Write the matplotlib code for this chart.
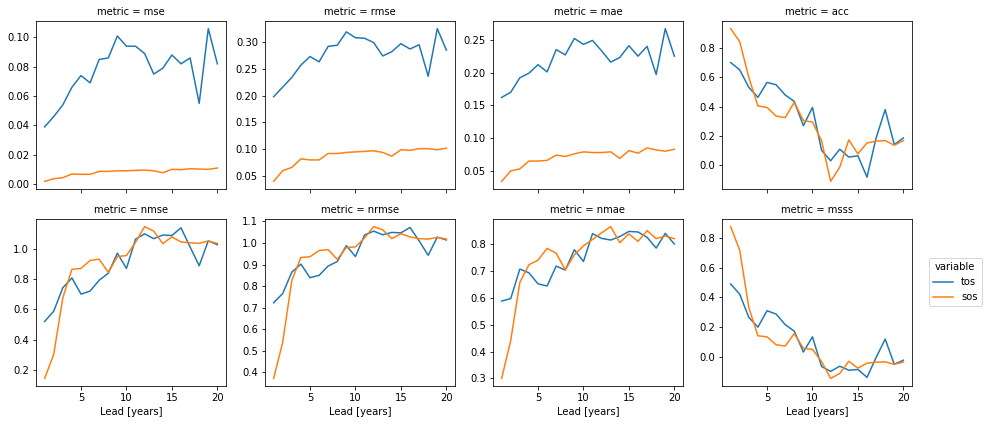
import numpy as np
import pandas as pd
import matplotlib
matplotlib.use("Agg")
import matplotlib.pyplot as plt
from matplotlib.ticker import FormatStrFormatter

# ─────────────────────────────────────────────
# DATOS
# ─────────────────────────────────────────────
lead = list(range(1, 21))
metrics = ["mse", "rmse", "mae", "acc", "nmse", "nrmse", "nmae", "msss"]

tos_mse = [0.039, 0.046, 0.054, 0.066, 0.074, 0.069, 0.085, 0.086, 0.101, 0.094,
           0.094, 0.089, 0.075, 0.079, 0.088, 0.082, 0.086, 0.055, 0.106, 0.082]
sos_mse = [0.0018, 0.0036, 0.0043, 0.0068, 0.0066, 0.0066, 0.0086, 0.0086, 0.0090, 0.0090,
           0.0093, 0.0095, 0.0090, 0.0077, 0.0100, 0.0098, 0.0104, 0.0102, 0.0100, 0.0109]

tos_rmse = [0.198, 0.216, 0.234, 0.257, 0.273, 0.263, 0.292, 0.294, 0.319, 0.308,
            0.307, 0.299, 0.274, 0.282, 0.297, 0.287, 0.295, 0.236, 0.325, 0.285]
sos_rmse = [0.040, 0.060, 0.066, 0.082, 0.080, 0.080, 0.092, 0.092, 0.094, 0.095,
            0.096, 0.097, 0.094, 0.087, 0.099, 0.098, 0.101, 0.101, 0.099, 0.102]

tos_mae = [0.162, 0.170, 0.192, 0.199, 0.212, 0.201, 0.235, 0.227, 0.252, 0.243,
           0.249, 0.233, 0.216, 0.223, 0.241, 0.225, 0.240, 0.197, 0.267, 0.225]
sos_mae = [0.034, 0.050, 0.053, 0.065, 0.065, 0.066, 0.074, 0.072, 0.076, 0.079,
           0.078, 0.078, 0.079, 0.069, 0.081, 0.077, 0.085, 0.082, 0.080, 0.083]

tos_acc = [0.702, 0.652, 0.532, 0.464, 0.566, 0.550, 0.480, 0.436, 0.270, 0.395,
           0.102, 0.030, 0.109, 0.055, 0.064, -0.082, 0.186, 0.380, 0.141, 0.186]
sos_acc = [0.934, 0.845, 0.600, 0.405, 0.395, 0.336, 0.325, 0.430, 0.305, 0.295,
           0.168, -0.111, -0.014, 0.173, 0.077, 0.152, 0.164, 0.168, 0.136, 0.168]

tos_nmse = [0.520, 0.588, 0.743, 0.808, 0.701, 0.721, 0.793, 0.839, 0.972, 0.871,
            1.065, 1.100, 1.068, 1.092, 1.089, 1.140, 1.013, 0.889, 1.054, 1.028]
sos_nmse = [0.143, 0.302, 0.677, 0.865, 0.871, 0.924, 0.932, 0.845, 0.950, 0.956,
            1.044, 1.148, 1.118, 1.035, 1.080, 1.046, 1.041, 1.037, 1.052, 1.037]

tos_nrmse = [0.723, 0.766, 0.865, 0.902, 0.839, 0.850, 0.893, 0.914, 0.988, 0.937,
             1.037, 1.055, 1.038, 1.049, 1.047, 1.072, 1.010, 0.943, 1.027, 1.014]
sos_nrmse = [0.372, 0.540, 0.827, 0.933, 0.936, 0.965, 0.969, 0.924, 0.979, 0.982,
             1.023, 1.076, 1.061, 1.020, 1.043, 1.028, 1.020, 1.018, 1.026, 1.018]

tos_nmae = [0.588, 0.597, 0.707, 0.693, 0.652, 0.644, 0.718, 0.703, 0.779, 0.735,
            0.839, 0.821, 0.815, 0.828, 0.847, 0.845, 0.825, 0.785, 0.840, 0.800]
sos_nmae = [0.300, 0.441, 0.657, 0.723, 0.740, 0.784, 0.766, 0.704, 0.760, 0.793,
            0.817, 0.842, 0.865, 0.805, 0.838, 0.810, 0.850, 0.820, 0.830, 0.820]

tos_msss = [0.490, 0.421, 0.266, 0.200, 0.310, 0.288, 0.217, 0.173, 0.033, 0.135,
            -0.064, -0.097, -0.062, -0.089, -0.084, -0.137, -0.004, 0.120, -0.049, -0.022]
sos_msss = [0.875, 0.716, 0.332, 0.142, 0.135, 0.082, 0.073, 0.157, 0.058, 0.051,
            -0.031, -0.144, -0.111, -0.029, -0.075, -0.042, -0.035, -0.033, -0.049, -0.035]

tos = dict(mse=tos_mse, rmse=tos_rmse, mae=tos_mae, acc=tos_acc,
           nmse=tos_nmse, nrmse=tos_nrmse, nmae=tos_nmae, msss=tos_msss)
sos = dict(mse=sos_mse, rmse=sos_rmse, mae=sos_mae, acc=sos_acc,
           nmse=sos_nmse, nrmse=sos_nrmse, nmae=sos_nmae, msss=sos_msss)

# ─────────────────────────────────────────────
# FIGURA
# ─────────────────────────────────────────────
W_PX, H_PX, DPI = 984, 424, 72
plt.rcParams["font.size"] = 10

fig = plt.figure(figsize=(W_PX / DPI, H_PX / DPI), dpi=DPI)

lefts   = [36, 265, 493, 722]
width   = 190
rows    = [(21, 189), (219, 386)]   # (top, bottom) en píxeles

# ticks y formato por panel
yticks = [np.arange(0, 0.101, 0.02), np.arange(0.05, 0.31, 0.05),
          np.arange(0.05, 0.26, 0.05), [0.0, 0.2, 0.4, 0.6, 0.8],
          [0.2, 0.4, 0.6, 0.8, 1.0], np.arange(0.4, 1.11, 0.1),
          np.arange(0.3, 0.81, 0.1), [0.0, 0.2, 0.4, 0.6, 0.8]]
yfmt = ["%.2f", "%.2f", "%.2f", "%.1f", "%.1f", "%.1f", "%.1f", "%.1f"]

axes = []
for i, m in enumerate(metrics):
    r, c = divmod(i, 4)
    top, bot = rows[r]
    ax = fig.add_axes([lefts[c] / W_PX, 1 - bot / H_PX,
                       width / W_PX, (bot - top) / H_PX])
    ax.plot(lead, tos[m], color="#1f77b4", lw=1.5, label="tos")
    ax.plot(lead, sos[m], color="#ff7f0e", lw=1.5, label="sos")
    ax.set_title(f"metric = {m}", fontsize=10)
    ax.set_xticks([5, 10, 15, 20])
    ax.set_yticks(yticks[i])
    ax.yaxis.set_major_formatter(FormatStrFormatter(yfmt[i]))
    if r == 0:
        ax.tick_params(labelbottom=False)
    else:
        ax.set_xlabel("Lead [years]")
    axes.append(ax)

handles, labels = axes[0].get_legend_handles_labels()
fig.legend(handles, labels, title="variable", loc="center left",
           bbox_to_anchor=(924 / W_PX, 1 - 282 / H_PX), frameon=True,
           fontsize=10, title_fontsize=10)

fig.savefig("out.png", dpi=DPI)
